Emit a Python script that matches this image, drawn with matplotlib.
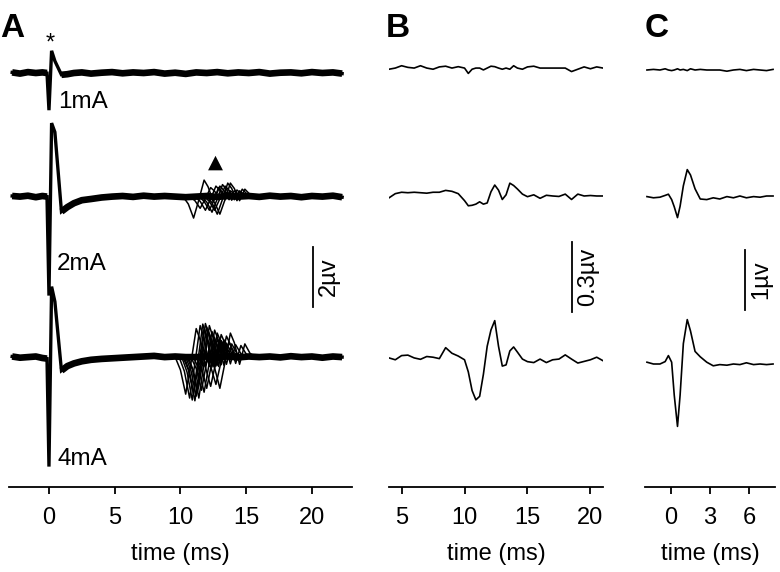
import numpy as np
import matplotlib
matplotlib.use('Agg')
import matplotlib.pyplot as plt

plt.rcParams['font.family'] = ['Liberation Sans', 'DejaVu Sans']

# ---- panel A: overlaid sweeps (uV), stimulus at t=0 ----
a_time = [-2.8, -2.2, -1.6, -1.0, -0.5, -0.15, 0.0, 0.2, 0.45, 0.95, 1.4, 1.9, 2.5, 3.2, 4.0,
          4.8, 5.6, 6.4, 7.2, 8.0, 8.8, 9.6, 10.4, 11.2, 12.0, 12.8, 13.6, 14.4, 15.2, 16.0,
          16.8, 17.6, 18.4, 19.2, 20.0, 20.8, 21.6, 22.3]
a_1mA = [0.02, -0.02, 0.03, 0.0, 0.02, 0.0, -1.24, 0.74, 0.4, -0.06, -0.04, 0.0, 0.02, -0.02, 0.01,
         0.03, -0.01, 0.02, 0.0, 0.03, -0.02, 0.01, -0.03, 0.02, 0.0, 0.03, -0.01, 0.02, 0.0, 0.03,
         -0.02, 0.01, 0.02, -0.01, 0.03, 0.0, 0.02, -0.02]
a_2mA = [0.02, 0.0, 0.03, -0.02, 0.02, 0.0, -3.3, 2.45, 2.15, -0.5, -0.35, -0.22, -0.12, -0.08, -0.03,
         0.0, 0.02, -0.01, 0.03, 0.0, 0.02, 0.0, -0.02, 0.0, 0.02, -0.01, 0.02, 0.0, 0.02, -0.01,
         0.03, 0.0, 0.02, -0.02, 0.02, 0.0, 0.03, -0.02]
a_4mA = [0.02, -0.02, 0.0, 0.02, -0.03, -0.05, -3.65, 2.35, 1.85, -0.45, -0.3, -0.21, -0.14, -0.09, -0.06,
         -0.04, -0.02, 0.0, 0.02, 0.04, 0.0, 0.02, 0.0, 0.0, 0.02, 0.0, 0.02, -0.01, 0.02, 0.0,
         0.02, -0.01, 0.03, 0.0, 0.02, -0.02, 0.02, 0.0]

# single-sweep response shape (time rel. to trough, uV) and per-sweep latency / size
resp_t = [-0.8, -0.4, 0.0, 0.4, 0.8, 1.1, 1.5, 1.9, 2.3, 2.8]
resp_v = [0.0, -0.45, -1.3, -0.2, 1.0, 0.6, -0.3, 0.55, 0.15, 0.0]
lat_4mA = [10.4, 10.7, 10.9, 11.0, 11.1, 11.2, 11.3, 11.4, 11.6, 11.8, 12.0, 12.3, 12.7, 13.0]
gain_4mA = [0.95, 1.05, 1.1, 0.95, 1.12, 1.0, 0.9, 1.05, 0.85, 0.9, 0.8, 0.75, 0.7, 0.8]
lat_2mA = [11.0, 11.5, 11.9, 12.2, 12.4, 12.6, 12.8, 13.0]
gain_2mA = [0.55, 0.3, 0.35, 0.35, 0.4, 0.35, 0.45, 0.45]

# ---- panel B: averages (uV) ----
b_time = [4.0, 4.5, 5.0, 5.5, 6.0, 6.5, 7.0, 7.5, 8.0, 8.5, 9.0, 9.5,
          10.0, 10.3, 10.6, 10.9, 11.2, 11.5, 11.8, 12.1, 12.4, 12.7, 13.0, 13.3, 13.6, 13.9, 14.2,
          14.6, 15.0, 15.5, 16.0, 16.5, 17.0, 17.5, 18.0, 18.5, 19.0, 19.5, 20.0, 20.5, 21.0]
b_1mA = [-0.005, 0.0, 0.01, 0.003, 0.0, 0.01, 0.0, -0.005, 0.005, 0.008, 0.0, 0.006,
         0.0, -0.023, -0.005, 0.0, 0.0, -0.008, 0.0, 0.008, 0.006, 0.0, -0.005, 0.0, -0.005, 0.01, 0.0,
         -0.005, 0.005, 0.008, 0.0, 0.0, 0.0, 0.0, 0.0, -0.015, -0.005, 0.005, -0.003, 0.005, 0.0]
b_2mA = [-0.008, 0.01, 0.016, 0.014, 0.016, 0.014, 0.012, 0.016, 0.016, 0.024, 0.02, 0.01,
         -0.02, -0.042, -0.04, -0.035, -0.025, -0.035, -0.03, 0.018, 0.047, 0.025, -0.015, 0.005, 0.055, 0.045, 0.03,
         0.008, -0.003, 0.005, -0.01, 0.003, 0.0, -0.002, 0.008, -0.015, 0.008, 0.0, 0.002, 0.0, 0.0]
b_4mA = [0.0, -0.008, 0.01, 0.012, 0.0, -0.006, 0.006, 0.003, -0.003, 0.044, 0.02, 0.008,
         -0.008, -0.06, -0.14, -0.18, -0.165, -0.07, 0.05, 0.12, 0.16, 0.05, -0.035, -0.03, 0.03, 0.047, 0.025,
         -0.005, -0.016, -0.02, -0.005, -0.02, -0.008, -0.005, 0.013, -0.005, -0.022, -0.015, -0.008, 0.003, -0.012]

# ---- panel C: averages around t=0 (uV) ----
c_time = [-1.85, -1.35, -0.85, -0.45, -0.2, 0.05, 0.25, 0.5, 0.7, 0.95, 1.25, 1.5, 1.85,
          2.25, 2.75, 3.25, 3.75, 4.3, 4.8, 5.3, 5.8, 6.35, 6.85, 7.35, 7.85]
c_1mA = [0.0, 0.01, 0.0, 0.02, 0.0, -0.01, 0.0, 0.02, 0.0, 0.01, -0.01, 0.02, 0.0,
         0.01, 0.0, 0.0, 0.0, -0.02, 0.0, 0.01, -0.01, 0.01, 0.0, -0.01, 0.01]
c_2mA = [0.02, 0.0, 0.01, 0.04, 0.06, -0.03, -0.15, -0.33, -0.14, 0.2, 0.47, 0.38, 0.15,
         -0.02, -0.03, 0.0, -0.02, 0.02, 0.0, 0.03, 0.0, 0.02, 0.01, 0.03, 0.03]
c_4mA = [0.03, 0.0, 0.0, 0.04, 0.14, 0.03, -0.52, -1.04, -0.52, 0.34, 0.74, 0.55, 0.21,
         0.12, 0.03, -0.03, -0.01, -0.02, 0.0, -0.01, 0.02, -0.01, 0.0, -0.01, 0.0]

labels = ['1mA', '2mA', '4mA']

W, H = 780, 572
fig = plt.figure(figsize=(7.8, 5.72), dpi=100)


def box(x0, x1, y0=20, y1=487):
    return [x0 / W, 1 - y1 / H, (x1 - x0) / W, (y1 - y0) / H]


def style(ax, ticks):
    for s in ['left', 'right', 'top']:
        ax.spines[s].set_visible(False)
    ax.spines['bottom'].set_linewidth(1.3)
    ax.set_yticks([])
    ax.set_xticks(ticks)
    ax.tick_params(axis='x', direction='out', length=5, width=1.3, labelsize=17, pad=9.5)
    ax.set_xlabel('time (ms)', fontsize=17, labelpad=10)


def scalebar(ax, x, y0, y1, txt, dx=3.5):
    ax.plot([x, x], [y0, y1], color='k', lw=1.3, clip_on=False)
    ax.annotate(txt, xy=(x, (y0 + y1) / 2), xytext=(dx, 0), textcoords='offset points',
                rotation=90, ha='left', va='center', fontsize=17)


# A
axA = fig.add_axes(box(9, 352))
axA.set_xlim(-3.04, 23.05)
axA.set_ylim(0, 467 / 30)
t = np.array(a_time)
offA = [13.8, 9.68, 4.33]
for y, off in zip([a_1mA, a_2mA, a_4mA], offA):
    y = np.array(y) + off
    axA.plot(t[t <= -0.15], y[t <= -0.15], color='k', lw=4.8, solid_capstyle='butt')
    axA.plot(t[t >= 0.95], y[t >= 0.95], color='k', lw=4.8, solid_capstyle='butt')
    axA.plot(t, y, color='k', lw=2.4, solid_joinstyle='miter')
rt = np.array(resp_t)
rv = np.array(resp_v)
for lat, g in zip(lat_2mA, gain_2mA):
    axA.plot(rt + lat, rv * g + offA[1], color='k', lw=1.1)
for lat, g in zip(lat_4mA, gain_4mA):
    axA.plot(rt + lat, rv * g + offA[2], color='k', lw=1.1)
style(axA, [0, 5, 10, 15, 20])
scalebar(axA, 20.05, 6.0, 8.0, '2µv')

# B
axB = fig.add_axes(box(389, 603))
axB.set_xlim(4, 21)
axB.set_ylim(0, 467 / 233)
for y, off in zip([b_1mA, b_2mA, b_4mA], [1.798, 1.249, 0.554]):
    axB.plot(b_time, np.array(y) + off, color='k', lw=1.2)
style(axB, [5, 10, 15, 20])
scalebar(axB, 18.56, 0.751, 1.051, '0.3µv')

# C
axC = fig.add_axes(box(645, 775))
axC.set_xlim(-2, 8)
axC.set_ylim(0, 467 / 60)
for y, off in zip([c_1mA, c_2mA, c_4mA], [6.95, 4.82, 2.05]):
    axC.plot(c_time, np.array(y) + off, color='k', lw=1.2)
style(axC, [0, 3, 6])
scalebar(axC, 5.69, 2.95, 3.95, '1µv')


# annotations (pixel layout)
def ftext(x, y, s, **kw):
    fig.text(x / W, 1 - y / H, s, **kw)


for s, (x, y) in zip(labels, [(58, 108), (57, 270), (57, 465)]):
    ftext(x, y, s, fontsize=17.5, va='baseline', ha='left')
ftext(50.5, 50, '*', fontsize=17, ha='center', va='baseline')
ftext(215.5, 168, '▲', fontsize=14, ha='center', va='baseline', family='DejaVu Sans')
for s, x in zip(['A', 'B', 'C'], [0, 386, 645]):
    ftext(x, 37, s, fontsize=24, fontweight='bold', ha='left', va='baseline')

fig.savefig('out.png', dpi=100)
